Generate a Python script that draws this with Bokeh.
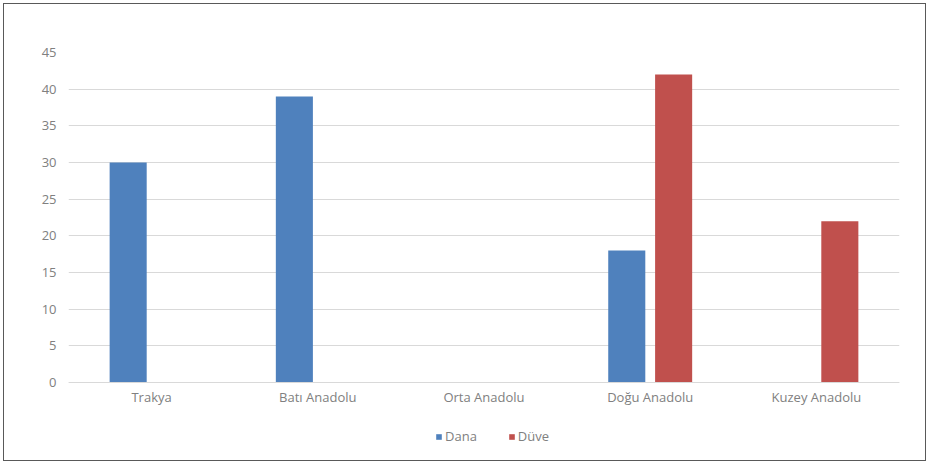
from bokeh.plotting import figure
from bokeh.models import ColumnDataSource, FactorRange, Range1d, Legend, LegendItem, FixedTicker
from bokeh.transform import dodge
from bokeh.embed import file_html
from bokeh.resources import INLINE

categories = ["Trakya", "Batı Anadolu", "Orta Anadolu", "Doğu Anadolu", "Kuzey Anadolu"]
dana = [30, 39, 0, 18, 0]
duve = [0, 0, 0, 42, 22]
series_names = ["Dana", "Düve"]
y_ticks = [0, 5, 10, 15, 20, 25, 30, 35, 40, 45]
colors = ["#4F81BD", "#C0504D"]

source = ColumnDataSource(dict(cat=categories, dana=dana, duve=duve))

FONT = "Open Sans"
TXT = "#808080"

p = figure(x_range=FactorRange(*categories, range_padding=0), y_range=Range1d(-10.64, 45),
           frame_width=831, frame_height=408, output_backend="svg", toolbar_location=None,
           min_border_left=64, min_border_right=26, min_border_top=48, min_border_bottom=0)
p.styles = {"border": "1px solid #595959", "margin-left": "3px", "margin-top": "3px"}

r1 = p.vbar(x=dodge("cat", -0.141, range=p.x_range), top="dana", width=0.223, source=source,
            color=colors[0], line_color=None)
r2 = p.vbar(x=dodge("cat", 0.141, range=p.x_range), top="duve", width=0.223, source=source,
            color=colors[1], line_color=None)

p.outline_line_color = None
p.xgrid.grid_line_color = None
p.ygrid.grid_line_color = "#D9D9D9"
p.ygrid.grid_line_width = 1
p.yaxis.ticker = FixedTicker(ticks=y_ticks)
p.yaxis.axis_line_color = None
p.yaxis.major_tick_line_color = None
p.yaxis.minor_tick_line_color = None
p.yaxis.major_label_text_font = FONT
p.yaxis.major_label_text_font_size = "13px"
p.yaxis.major_label_text_color = TXT
p.yaxis.major_label_standoff = 6

p.xaxis.fixed_location = 0
p.xaxis.axis_line_color = "#D9D9D9"
p.xaxis.major_tick_line_color = None
p.xaxis.minor_tick_line_color = None
p.xaxis.major_label_text_font = FONT
p.xaxis.major_label_text_font_size = "13px"
p.xaxis.major_label_text_color = TXT
p.xaxis.major_label_standoff = 0

legend = Legend(items=[LegendItem(label=series_names[0], renderers=[r1]),
                       LegendItem(label=series_names[1], renderers=[r2])],
                orientation="horizontal", location=(367, 15),
                label_text_font=FONT, label_text_font_size="13px", label_text_color=TXT,
                label_height=14, glyph_width=7, glyph_height=7, spacing=31, label_standoff=3,
                border_line_color=None, background_fill_alpha=0, padding=0, margin=0)
p.add_layout(legend, "center")

open("out.html", "w").write(file_html(p, INLINE))
